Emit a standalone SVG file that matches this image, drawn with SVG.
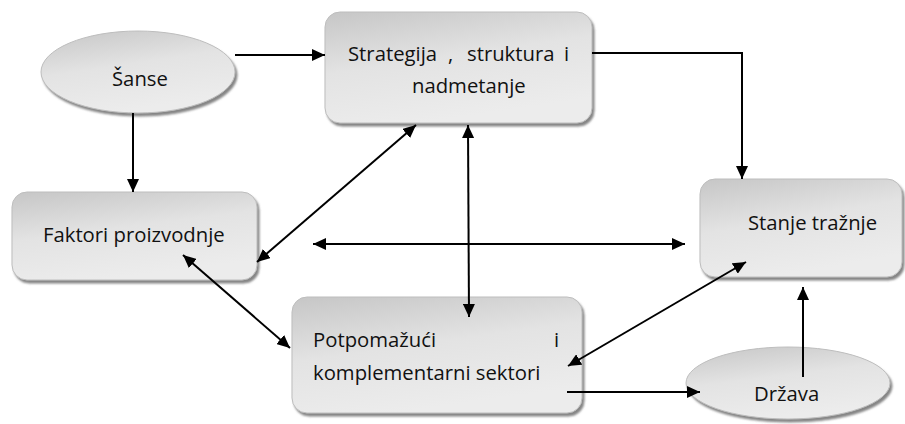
<svg xmlns="http://www.w3.org/2000/svg" width="905" height="424" viewBox="0 0 905 424">
<style>
.lbl{font-family:"Open Sans","Noto Sans","Liberation Sans",sans-serif;font-size:20.3px;fill:#111}
.box{fill:url(#g);stroke:#bdbdbd;stroke-width:1;filter:url(#sh)}
.con{fill:none;stroke:#000;stroke-width:2}
</style>
<defs>
<linearGradient id="g" x1="0" y1="0" x2="0.35" y2="1">
<stop offset="0" stop-color="#c6c6c6"/>
<stop offset="0.5" stop-color="#e3e3e3"/>
<stop offset="1" stop-color="#ececec"/>
</linearGradient>
<filter id="sh" x="-10%" y="-10%" width="125%" height="130%">
<feDropShadow dx="2" dy="3" stdDeviation="1" flood-color="#707070" flood-opacity="0.85"/>
</filter>
<marker id="ah" markerUnits="userSpaceOnUse" markerWidth="14" markerHeight="12" refX="13" refY="6" orient="auto-start-reverse">
<path d="M0,0 L13,6 L0,12 z" fill="#000"/>
</marker>
</defs>
<g id="sanse">
<ellipse class="box" cx="138" cy="72" rx="97" ry="41"/>
<text class="lbl" x="112" y="86">Šanse</text>
</g>
<g id="strategija">
<rect class="box" x="325" y="12" width="267" height="111" rx="15"/>
<text class="lbl" y="61"><tspan x="348">Strategija</tspan><tspan x="448">,</tspan><tspan x="467">struktura</tspan><tspan x="564">i</tspan></text>
<text class="lbl" x="412" y="93">nadmetanje</text>
</g>
<g id="faktori">
<rect class="box" x="12" y="192" width="245" height="88" rx="15"/>
<text class="lbl" x="43" y="242">Faktori proizvodnje</text>
</g>
<g id="stanje">
<rect class="box" x="700" y="179" width="202" height="98" rx="15"/>
<text class="lbl" x="748" y="230">Stanje tražnje</text>
</g>
<g id="potpomazuci">
<rect class="box" x="292" y="297" width="290" height="116" rx="15"/>
<text class="lbl" y="347"><tspan x="313">Potpomažući</tspan><tspan x="554">i</tspan></text>
<text class="lbl" x="313" y="380">komplementarni sektori</text>
</g>
<g id="drzava">
<ellipse class="box" cx="788" cy="383" rx="102" ry="36"/>
<text class="lbl" x="754" y="401">Država</text>
</g>
<g id="connectors">
<path class="con" d="M235,55 H325" marker-end="url(#ah)"/>
<path class="con" d="M133,113 V192" marker-end="url(#ah)"/>
<path class="con" d="M592,53 H742 V179" marker-end="url(#ah)"/>
<path class="con" d="M257,262 L416,125" marker-start="url(#ah)" marker-end="url(#ah)"/>
<path class="con" d="M468,125 L469,317" marker-start="url(#ah)" marker-end="url(#ah)"/>
<path class="con" d="M313,244 H685" marker-start="url(#ah)" marker-end="url(#ah)"/>
<path class="con" d="M183,255 L290,348" marker-start="url(#ah)" marker-end="url(#ah)"/>
<path class="con" d="M568,366 L746,262" marker-start="url(#ah)" marker-end="url(#ah)"/>
<path class="con" d="M567,392 H700" marker-end="url(#ah)"/>
<path class="con" d="M803,377 V287" marker-end="url(#ah)"/>
</g>
</svg>
